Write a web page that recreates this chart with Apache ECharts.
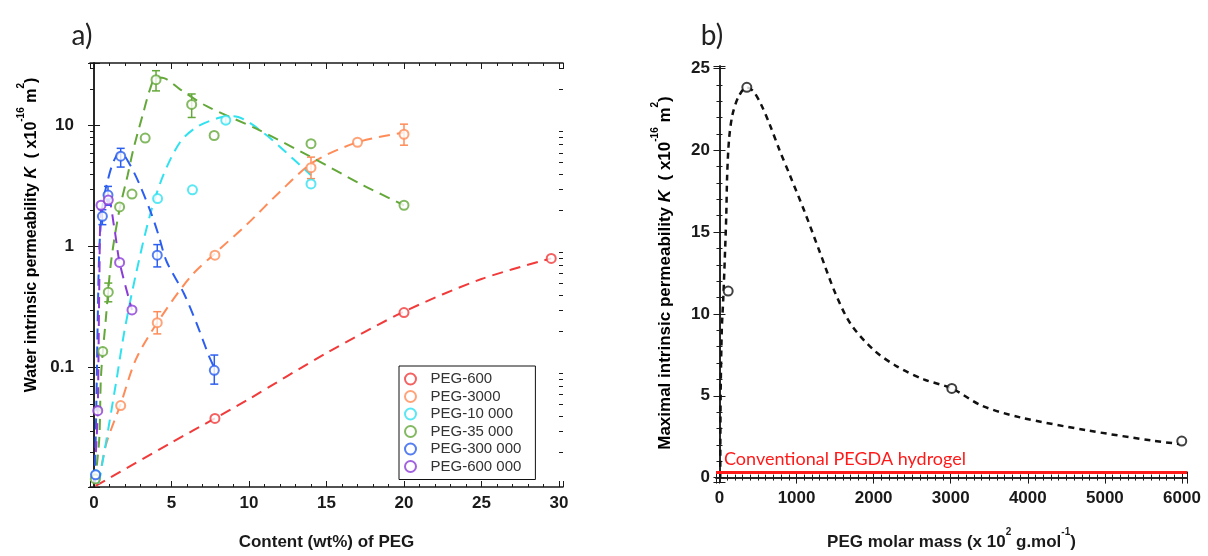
<!DOCTYPE html>
<html>
<head>
<meta charset="utf-8">
<script src="https://cdn.jsdelivr.net/npm/echarts@6/dist/echarts.min.js"></script>
<style>
  html, body { margin: 0; padding: 0; background: #fff; }
  #chart { width: 1208px; height: 556px; }
</style>
</head>
<body>
<div id="chart"></div>
<script>
// ---- panel a) : permeability vs PEG content ----
var names = ['PEG-600', 'PEG-3000', 'PEG-10 000', 'PEG-35 000', 'PEG-300 000', 'PEG-600 000'];
var colors = ['#f23a3a', '#ff8c58', '#30e2f0', '#64a83a', '#2c5ef0', '#8a3cd6'];

// measured points [wt%, K]
var pts600 = [[7.8, 0.038], [20, 0.285], [29.5, 0.8]];
var pts3000 = [[1.72, 0.0485], [4.08, 0.235], [7.8, 0.85], [14, 4.5], [17, 7.3], [20, 8.5]];
var pts10k = [[0.12, 0.013], [4.1, 2.5], [6.35, 2.95], [8.5, 11.1], [14, 3.3]];
var pts35k = [[0.08, 0.012], [0.56, 0.136], [0.92, 0.42], [1.65, 2.13], [2.45, 2.72], [3.3, 7.9], [4, 24], [6.3, 15], [7.75, 8.3], [14, 7.1], [20, 2.2]];
var pts300k = [[0.1, 0.013], [0.54, 1.78], [0.9, 2.67], [1.72, 5.6], [4.08, 0.85], [7.76, 0.095]];
var pts600k = [[0.24, 0.044], [0.45, 2.2], [0.92, 2.43], [1.65, 0.74], [2.45, 0.30]];

// dashed fit curves
var fit600 = [[0.1, 0.0105], [5, 0.024], [7.8, 0.038], [10, 0.055], [15, 0.132], [20, 0.29], [25, 0.54], [29.5, 0.8]];
var fit3000 = [[0.3, 0.011], [0.77, 0.023], [1.72, 0.05], [2.7, 0.117], [4.08, 0.235], [6.2, 0.56], [7.8, 0.88], [9.85, 1.52], [12, 2.85], [14.15, 5.0], [17, 7.3], [20, 8.8]];
var fit10k = [[0.3, 0.011], [0.77, 0.024], [1.42, 0.075], [1.96, 0.2], [2.7, 0.59], [3.6, 1.8], [4.47, 3.9], [5.55, 7.3], [6.6, 9.7], [8.13, 11.7], [9, 12], [10.9, 8.8], [12.86, 5.3], [14, 3.9]];
var fit35k = [[0.05, 0.011], [0.34, 0.026], [0.45, 0.085], [0.77, 0.26], [1.1, 0.75], [1.6, 1.9], [2.17, 3.9], [2.54, 6.4], [3.18, 12.8], [3.61, 20], [4.0, 25], [4.6, 24.5], [5.55, 20], [7.27, 14.5], [10.5, 9.4], [13.9, 5.6], [17.4, 3.2], [20, 2.2]];
var fit300k = [[0.05, 0.011], [0.15, 0.05], [0.25, 0.3], [0.35, 1.0], [0.55, 2.2], [0.9, 3.6], [1.3, 5.2], [1.72, 6.0], [2.3, 4.8], [2.97, 3.2], [3.72, 1.84], [4.15, 1.26], [4.69, 0.75], [5.8, 0.41], [6.63, 0.23], [7.38, 0.128], [7.76, 0.1]];
var fit600k = [[0.12, 0.02], [0.24, 0.044], [0.35, 0.6], [0.45, 2.0], [0.92, 2.43], [1.3, 1.45], [1.65, 0.74], [2.45, 0.3]];

// error bars [x, low, high]
var err600 = [];
var err3000 = [[4.08, 0.19, 0.29], [14, 3.65, 5.5], [20, 6.9, 10.3]];
var err10k = [[8.5, 10.5, 11.7]];
var err35k = [[0.92, 0.35, 0.5], [4, 19.4, 28.5], [6.3, 11.7, 18.3]];
var err300k = [[0.54, 1.52, 2.02], [0.9, 2.2, 3.15], [1.72, 4.55, 6.5], [4.08, 0.68, 1.04], [7.76, 0.073, 0.127]];
var err600k = [];

var logMinorTicks = [0.02, 0.03, 0.04, 0.05, 0.06, 0.07, 0.08, 0.09,
  0.2, 0.3, 0.4, 0.5, 0.6, 0.7, 0.8, 0.9, 2, 3, 4, 5, 6, 7, 8, 9, 20, 30];

// ---- panel b) : maximal permeability vs molar mass ----
var massX = [113, 355, 3014, 5997];
var massK = [11.4, 23.85, 5.45, 2.23];
var massFit = [[10, 0], [15, 5], [30, 9], [50, 11], [70, 13.5], [88, 16], [100, 18.5], [125, 20.7], [170, 22.2], [250, 23.3], [350, 23.85], [440, 23.6], [540, 22.8], [650, 21.6], [780, 20], [920, 18.4], [1100, 16.3], [1300, 13.8], [1500, 11.3], [1700, 9.4], [2000, 7.8], [2300, 6.8], [2650, 6.0], [3014, 5.45], [3400, 4.4], [3900, 3.68], [4765, 2.89], [5629, 2.25], [5975, 2.05]];
var pegdaK = 0.3;

var pts = [pts600, pts3000, pts10k, pts35k, pts300k, pts600k];
var fits = [fit600, fit3000, fit10k, fit35k, fit300k, fit600k];
var errs = [err600, err3000, err10k, err35k, err300k, err600k];

var AX = '#1a1a1a';
var labelFont = { color: '#1a1a1a', fontFamily: 'Liberation Sans', fontWeight: 'bold', fontSize: 17 };

function errRender(color) {
  return function (params, api) {
    var x = api.value(0);
    var p1 = api.coord([x, api.value(1)]);
    var p2 = api.coord([x, api.value(2)]);
    var w = 4, st = { stroke: color, lineWidth: 1.5 };
    return { type: 'group', children: [
      { type: 'line', shape: { x1: p1[0], y1: p1[1], x2: p2[0], y2: p2[1] }, style: st },
      { type: 'line', shape: { x1: p1[0] - w, y1: p1[1], x2: p1[0] + w, y2: p1[1] }, style: st },
      { type: 'line', shape: { x1: p2[0] - w, y1: p2[1], x2: p2[0] + w, y2: p2[1] }, style: st }
    ] };
  };
}

function axisBase(extra) {
  var o = {
    axisLine: { show: true, lineStyle: { color: AX, width: 1.5 } },
    axisTick: { show: true, inside: true, length: 6, lineStyle: { color: AX, width: 1 } },
    minorTick: { show: true, length: 3, lineStyle: { color: AX, width: 1 } },
    splitLine: { show: false },
    axisLabel: Object.assign({ show: true }, labelFont)
  };
  return Object.assign(o, extra);
}

var series = [];
for (var i = 0; i < 6; i++) {
  series.push({
    name: names[i] + ' fit', type: 'line', xAxisIndex: 0, yAxisIndex: 0,
    data: fits[i], smooth: 0.3, symbol: 'none', silent: true, z: 2,
    lineStyle: { color: colors[i], width: 2, type: [11, 7] }
  });
  if (errs[i].length) {
    series.push({
      type: 'custom', xAxisIndex: 0, yAxisIndex: 0, data: errs[i], silent: true, z: 4,
      renderItem: errRender(colors[i])
    });
  }
}
for (var j = 0; j < 6; j++) {
  series.push({
    name: names[j], type: 'scatter', xAxisIndex: 0, yAxisIndex: 0,
    data: pts[j], symbol: 'emptyCircle', symbolSize: 9, z: 5,
    itemStyle: { color: colors[j], borderWidth: 1.5 }
  });
}
// minor ticks of the log axis (both sides)
series.push({
  type: 'custom', xAxisIndex: 0, yAxisIndex: 0, silent: true, clip: false, z: 6,
  data: logMinorTicks.map(function (v) { return [1, v]; }),
  renderItem: function (params, api) {
    var cs = params.coordSys;
    var y = Math.round(api.coord([1, api.value(1)])[1]) + 0.5;
    var st = { stroke: AX, lineWidth: 1 };
    return { type: 'group', children: [
      { type: 'line', shape: { x1: cs.x, y1: y, x2: cs.x + 4, y2: y }, style: st },
      { type: 'line', shape: { x1: cs.x + cs.width - 4, y1: y, x2: cs.x + cs.width, y2: y }, style: st }
    ] };
  }
});

// panel b
series.push({
  name: 'fit', type: 'line', xAxisIndex: 2, yAxisIndex: 2,
  data: massFit, smooth: 0.3, symbol: 'none', silent: true, z: 3,
  lineStyle: { color: '#111', width: 2.5, type: [6, 5] }
});
series.push({
  name: 'max K', type: 'scatter', xAxisIndex: 2, yAxisIndex: 2,
  data: massX.map(function (x, k) { return [x, massK[k]]; }),
  symbol: 'emptyCircle', symbolSize: 9, z: 5,
  itemStyle: { color: '#111', borderWidth: 1.2 },
  markLine: {
    silent: true, symbol: 'none',
    lineStyle: { color: '#ff1a1a', width: 3, type: 'solid' },
    label: {
      show: true, position: 'insideStartTop', distance: [8, 4],
      formatter: 'Conventional PEGDA hydrogel',
      color: '#ff1a1a', fontFamily: 'Lato', fontSize: 18
    },
    data: [{ yAxis: pegdaK }]
  }
});

var sup = { fontSize: 10, verticalAlign: 'top', lineHeight: 12, fontWeight: 'bold', fontFamily: 'Liberation Sans', color: '#1a1a1a' };
function titleRich(size) {
  return {
    b: { fontSize: size, fontWeight: 'bold', fontFamily: 'Liberation Sans', color: '#1a1a1a', lineHeight: 24, verticalAlign: 'bottom' },
    bi: { fontSize: size, fontWeight: 'bold', fontStyle: 'italic', fontFamily: 'Liberation Sans', color: '#1a1a1a', lineHeight: 24, verticalAlign: 'bottom' },
    s: sup
  };
}

var option = {
  backgroundColor: '#fff',
  animation: false,
  grid: [
    { left: 90, top: 63, width: 473, height: 430, containLabel: false },
    { left: 716, top: 66, width: 471, height: 427, containLabel: false }
  ],
  legend: {
    data: names, orient: 'vertical', left: 399, top: 366,
    itemWidth: 30, itemHeight: 11, itemGap: 1.5,
    padding: [5, 14, 5, 5],
    borderColor: '#111', borderWidth: 1, backgroundColor: '#fff',
    textStyle: { fontFamily: 'Liberation Sans', fontSize: 15, color: '#333', lineHeight: 16 }
  },
  xAxis: [
    axisBase({
      type: 'value', gridIndex: 0, position: 'bottom', min: -0.26, max: 30.26,
      minorTick: { show: true, splitNumber: 5, length: 3, lineStyle: { color: AX } },
      axisLabel: Object.assign({ margin: 8, formatter: function (v) { return Math.abs(v % 5) < 1e-6 ? String(v) : ''; } }, labelFont),
      name: '{b|Content (wt%) of PEG}', nameLocation: 'middle', nameGap: 40,
      nameTextStyle: { rich: titleRich(17) }
    }),
    axisBase({
      type: 'value', gridIndex: 0, position: 'top', min: -0.26, max: 30.26,
      minorTick: { show: true, splitNumber: 5, length: 3, lineStyle: { color: AX } },
      axisLabel: { show: false }
    }),
    axisBase({
      type: 'value', gridIndex: 1, position: 'bottom', min: -45, max: 6065,
      minorTick: { show: true, splitNumber: 10, length: 3, lineStyle: { color: AX } },
      axisLabel: Object.assign({ margin: 8, formatter: function (v) { return Math.abs(v % 1000) < 1e-6 ? String(v) : ''; } }, labelFont),
      name: '{b|PEG molar mass (x 10}{s|2}{b| g.mol}{s|-1}{b|)}', nameLocation: 'middle', nameGap: 45,
      nameTextStyle: { rich: titleRich(17) }
    }),
    axisBase({
      type: 'value', gridIndex: 1, position: 'top', min: -45, max: 6065,
      minorTick: { show: true, splitNumber: 10, length: 3, lineStyle: { color: AX } },
      axisLabel: { show: false }
    })
  ],
  yAxis: [
    axisBase({
      type: 'log', gridIndex: 0, position: 'left', min: 0.0103, max: 33, logBase: 10,
      minorTick: { show: false },
      axisLabel: Object.assign({ margin: 16, formatter: function (v) {
        var l = Math.log10(v), r = Math.round(l);
        if (Math.abs(l - r) > 1e-6 || r < -1 || r > 1) return '';
        return r === -1 ? '0.1' : String(Math.pow(10, r));
      } }, labelFont)
    }),
    axisBase({
      type: 'log', gridIndex: 0, position: 'right', min: 0.0103, max: 33, logBase: 10,
      minorTick: { show: false }, axisLabel: { show: false }
    }),
    axisBase({
      type: 'value', gridIndex: 1, position: 'left', min: -0.27, max: 25.15,
      minorTick: { show: true, splitNumber: 5, length: 3, lineStyle: { color: AX } },
      axisLabel: Object.assign({ margin: 6, formatter: function (v) { return Math.abs(v % 5) < 1e-6 ? String(v) : ''; } }, labelFont)
    }),
    axisBase({
      type: 'value', gridIndex: 1, position: 'right', min: -0.27, max: 25.15,
      minorTick: { show: true, splitNumber: 5, length: 3, lineStyle: { color: AX } },
      axisLabel: { show: false }
    })
  ],
  graphic: [
    { type: 'text', x: 82, y: 36, style: { text: 'a)', font: '28px Lato', fill: '#222', align: 'center', verticalAlign: 'middle' } },
    { type: 'text', x: 712, y: 36, style: { text: 'b)', font: '28px Lato', fill: '#222', align: 'center', verticalAlign: 'middle' } },
    { type: 'text', x: 28, y: 235, rotation: Math.PI / 2,
      style: { text: '{b|Water intrinsic permeability }{bi|K}{b|  ( x10}{s|-16}{b| m}{s|2}{b|)}', rich: titleRich(16), align: 'center', verticalAlign: 'middle' } },
    { type: 'text', x: 662, y: 273, rotation: Math.PI / 2,
      style: { text: '{b|Maximal intrinsic permeability }{bi|K}{b|  ( x10}{s|-16}{b| m}{s|2}{b|)}', rich: titleRich(17), align: 'center', verticalAlign: 'middle' } }
  ],
  series: series
};

var chart = echarts.init(document.getElementById('chart'));
chart.setOption(option);
</script>
</body>
</html>
